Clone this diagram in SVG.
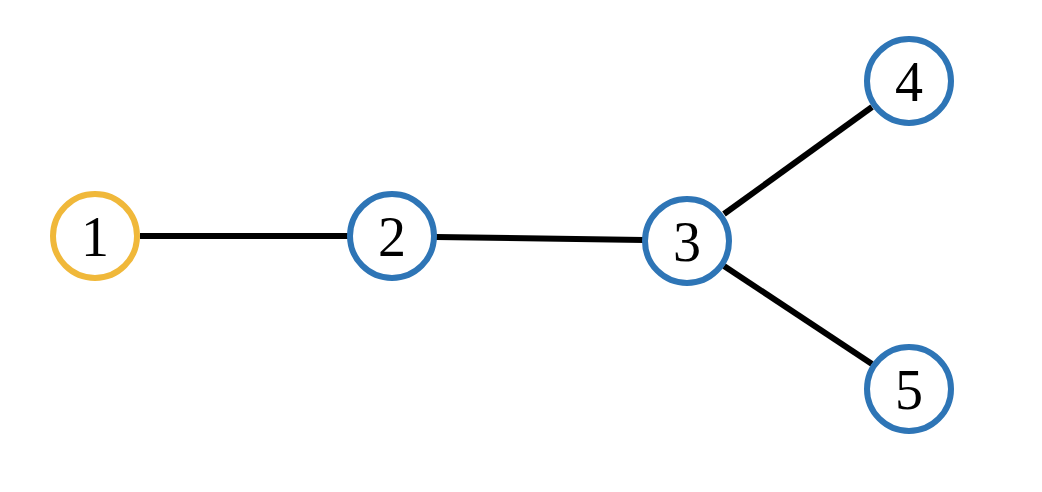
<svg xmlns="http://www.w3.org/2000/svg" width="1042" height="492" viewBox="0 0 1042 492">
<style>
.n{fill:#fff;stroke-width:6}
.b{stroke:#2e75b6}
.y{stroke:#f0b83a}
.t{font-family:"Liberation Serif",serif;font-size:56px;text-anchor:middle;fill:#000}
.e{stroke:#000;stroke-width:6}
</style>
<rect width="1042" height="492" fill="#fff"/>
<g id="connectors">
<line class="e" x1="140" y1="236" x2="350" y2="236"/>
<line class="e" x1="436" y1="237" x2="644" y2="240"/>
<line class="e" x1="724" y1="214" x2="872" y2="107"/>
<line class="e" x1="724" y1="266" x2="872" y2="364"/>
</g>
<g id="node1"><circle class="n y" cx="95" cy="236" r="42"/><text class="t" x="95" y="256">1</text></g>
<g id="node2"><circle class="n b" cx="392" cy="236" r="42"/><text class="t" x="392" y="256">2</text></g>
<g id="node3"><circle class="n b" cx="687" cy="241" r="42"/><text class="t" x="687" y="261">3</text></g>
<g id="node4"><circle class="n b" cx="909" cy="81" r="42"/><text class="t" x="909" y="101">4</text></g>
<g id="node5"><circle class="n b" cx="909" cy="389" r="42"/><text class="t" x="909" y="409">5</text></g>
</svg>
